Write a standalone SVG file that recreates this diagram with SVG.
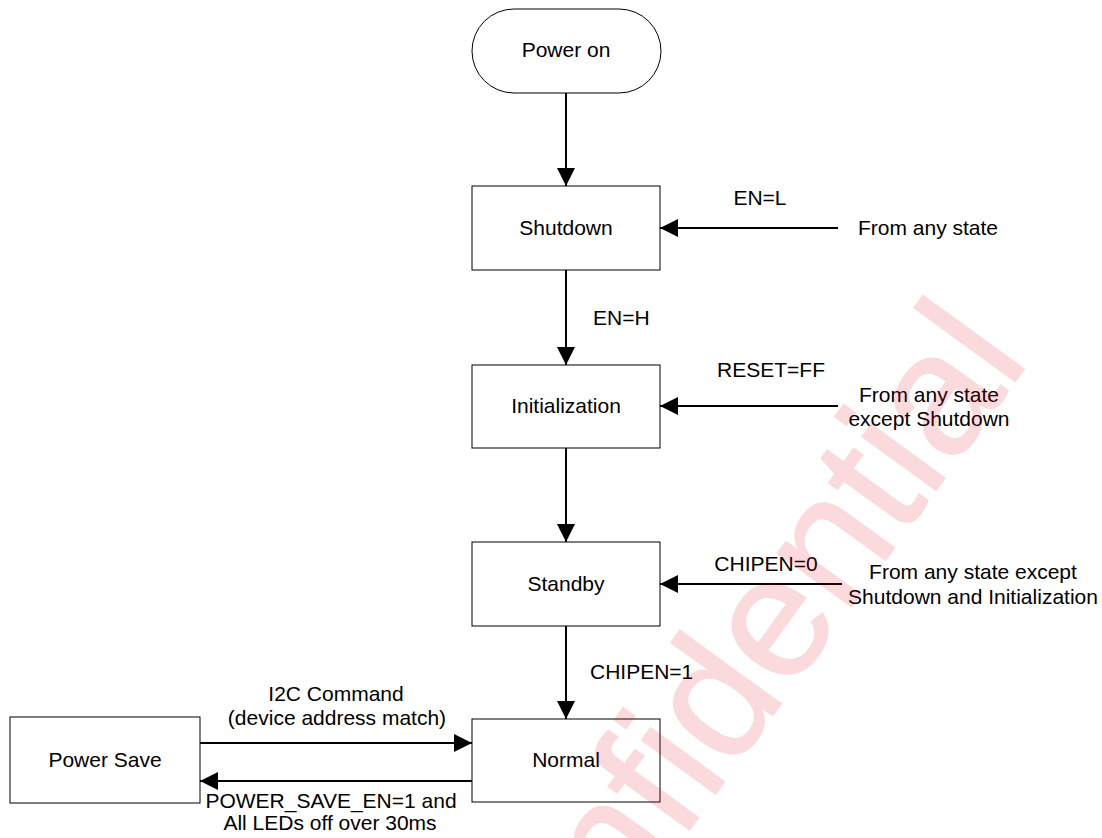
<svg xmlns="http://www.w3.org/2000/svg" width="1102" height="838" viewBox="0 0 1102 838">
<defs>
<style>
.box{fill:#fff;stroke:#000;stroke-width:1}
.t{font-family:"Liberation Sans",Arial,sans-serif;font-size:21px;fill:#000}
.c{text-anchor:middle}
.e{stroke:#000;stroke-width:2;fill:none;marker-end:url(#ah)}
.wm{font-family:"Liberation Sans",Arial,sans-serif;font-size:173px;fill:#e8001c;stroke:#e8001c;stroke-width:1.5}
</style>
<marker id="ah" markerUnits="userSpaceOnUse" markerWidth="18" markerHeight="18" refX="18" refY="9" orient="auto">
<path d="M0,0 L18,9 L0,18 z" fill="#000"/>
</marker>
</defs>
<rect width="1102" height="838" fill="#fff"/>
<g id="power-on"><rect class="box" x="472" y="9" width="189" height="84" rx="42" ry="42"/><text class="t c" x="566" y="57">Power on</text></g>
<g id="shutdown"><rect class="box" x="472" y="186" width="188" height="84"/><text class="t c" x="566" y="235">Shutdown</text></g>
<g id="initialization"><rect class="box" x="472" y="365" width="188" height="83"/><text class="t c" x="566" y="413">Initialization</text></g>
<g id="standby"><rect class="box" x="472" y="542" width="188" height="84"/><text class="t c" x="566" y="591">Standby</text></g>
<g id="normal"><rect class="box" x="472" y="719" width="188" height="83"/><text class="t c" x="566" y="767">Normal</text></g>
<g id="power-save"><rect class="box" x="10" y="717" width="190" height="86"/><text class="t c" x="105" y="767">Power Save</text></g>
<g id="sources">
<text class="t" x="858" y="235">From any state</text>
<text class="t c" x="929" y="402">From any state</text>
<text class="t c" x="929" y="426">except Shutdown</text>
<text class="t c" x="973" y="579">From any state except</text>
<text class="t c" x="973" y="604">Shutdown and Initialization</text>
</g>
<g id="connectors">
<line class="e" x1="566" y1="93" x2="566" y2="186"/>
<line class="e" x1="566" y1="270" x2="566" y2="365"/>
<line class="e" x1="566" y1="448" x2="566" y2="542"/>
<line class="e" x1="566" y1="626" x2="566" y2="719"/>
<line class="e" x1="838" y1="228" x2="660" y2="228"/>
<line class="e" x1="838" y1="406" x2="660" y2="406"/>
<line class="e" x1="842" y1="584" x2="660" y2="584"/>
<line class="e" x1="200" y1="743" x2="472" y2="743"/>
<line class="e" x1="472" y1="781" x2="200" y2="781"/>
<text class="t c" x="760" y="205">EN=L</text>
<text class="t" x="593" y="325">EN=H</text>
<text class="t c" x="771" y="377">RESET=FF</text>
<text class="t c" x="766" y="571">CHIPEN=0</text>
<text class="t" x="590" y="679">CHIPEN=1</text>
<text class="t c" x="336" y="701">I2C Command</text>
<text class="t c" x="337" y="725">(device address match)</text>
<text class="t c" x="331" y="808">POWER_SAVE_EN=1 and</text>
<text class="t c" x="330" y="830">All LEDs off over 30ms</text>
</g>
<g id="watermark" opacity="0.14"><text class="wm" transform="translate(494,1099) rotate(-54)">Confidential</text></g>
</svg>
